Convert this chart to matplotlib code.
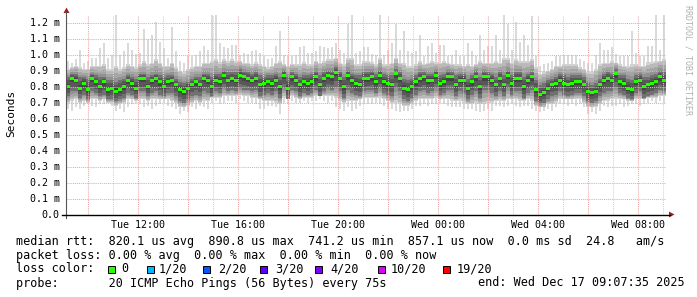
import numpy as np
import matplotlib
matplotlib.use('Agg')
import matplotlib.pyplot as plt
from matplotlib.patches import Polygon, Rectangle

W, H = 697, 297

# one day of pings, hours counted from Tue 00:00
t_start = 9 + 7 / 60 + 35 / 3600
t_end = t_start + 24

# median rtt per column (ms)
rtt_median = [
    .80, .85, .84, .79, .82, .78, .85, .83, .80, .83,
    .78, .79, .77, .78, .80, .84, .82, .79, .85, .85,
    .80, .84, .85, .83, .80, .83, .84, .81, .78, .77,
    .79, .81, .83, .81, .85, .84, .80, .84, .83, .87,
    .84, .85, .84, .87, .86, .85, .84, .85, .81, .82,
    .83, .82, .84, .80, .87, .79, .86, .84, .81, .83,
    .82, .83, .86, .81, .85, .87, .86, .89, .85, .80,
    .87, .84, .82, .81, .85, .85, .86, .83, .87, .83,
    .82, .81, .88, .85, .79, .78, .80, .83, .85, .86,
    .84, .84, .87, .82, .83, .86, .86, .81, .84, .84,
    .79, .83, .86, .80, .86, .86, .84, .81, .85, .81,
    .87, .82, .85, .85, .80, .84, .86, .78, .75, .76,
    .79, .81, .82, .84, .82, .81, .82, .83, .83, .81,
    .77, .76, .77, .81, .84, .85, .84, .88, .83, .82,
    .79, .78, .83, .84, .80, .81, .82, .83, .86, .84,
]

# smoke: slowest ping per column
rtt_max = [
    .96, .95, .97, 1.03, .95, .96, .98, .98, 1.04, 1.07,
    .98, 1.00, 1.25, 1.00, 1.02, 1.07, 1.03, 1.00, 1.01, 1.16,
    1.10, 1.12, 1.20, 1.08, 1.04, .98, 1.17, 1.02, .96, .95,
    .99, .99, 1.00, 1.02, 1.05, 1.03, 1.25, 1.25, 1.07, 1.05,
    1.04, 1.06, 1.06, 1.00, 1.01, 1.00, 1.02, 1.03, 1.01, .99,
    .97, .98, 1.05, 1.15, 1.00, .99, .99, 1.00, 1.05, 1.05,
    1.01, 1.01, 1.02, 1.05, 1.05, 1.04, 1.05, 1.07, 1.03, 1.01,
    1.19, 1.25, 1.01, 1.02, 1.05, 1.05, 1.00, 1.00, 1.25, 1.00,
    1.03, 1.07, 1.19, 1.03, 1.15, 1.02, 1.01, 1.02, 1.12, .99,
    1.05, 1.07, 1.01, 1.06, 1.06, .99, 1.00, 1.03, .99, .99,
    1.07, 1.02, .99, 1.12, 1.03, 1.05, 1.05, 1.12, 1.03, 1.25,
    1.19, 1.03, 1.20, 1.08, 1.12, 1.06, 1.24, .99, .93, .94,
    .95, .96, .99, .99, 1.00, 1.00, 1.00, 1.00, .97, .96,
    .95, .95, 1.00, 1.07, 1.03, 1.03, 1.05, 1.00, .99, .99,
    .99, 1.15, 1.01, .99, .99, 1.05, 1.05, 1.25, 1.03, 1.25,
]

# fastest ping per column
rtt_min = [
    .66, .65, .67, .66, .68, .69, .68, .67, .69, .69,
    .70, .68, .65, .66, .64, .67, .69, .70, .69, .67,
    .68, .66, .68, .69, .70, .68, .67, .66, .63, .65,
    .64, .67, .66, .68, .67, .66, .70, .71, .69, .70,
    .71, .71, .70, .72, .71, .70, .70, .69, .66, .66,
    .68, .68, .67, .63, .70, .69, .71, .70, .70, .71,
    .70, .71, .71, .72, .71, .70, .71, .67, .66, .65,
    .67, .65, .66, .68, .69, .69, .69, .70, .69, .68,
    .66, .66, .65, .64, .65, .65, .66, .68, .68, .69,
    .68, .69, .69, .70, .69, .68, .67, .67, .67, .66,
    .66, .66, .65, .64, .65, .66, .65, .68, .68, .67,
    .68, .69, .68, .67, .68, .68, .66, .65, .64, .65,
    .66, .65, .67, .69, .69, .68, .69, .68, .69, .67,
    .63, .64, .63, .65, .68, .67, .68, .68, .69, .67,
    .68, .69, .69, .68, .69, .70, .71, .70, .71, .70,
]

# outer grey band
rtt_hi2 = [
    .91, .92, .93, .92, .91, .91, .93, .93, .93, .94,
    .91, .91, .93, .91, .92, .94, .93, .92, .94, .96,
    .94, .95, .97, .95, .93, .93, .95, .92, .90, .89,
    .91, .92, .93, .93, .95, .95, .96, .97, .95, .97,
    .96, .97, .96, .96, .95, .95, .94, .95, .94, .93,
    .92, .93, .95, .96, .94, .93, .94, .94, .94, .95,
    .94, .94, .96, .95, .96, .97, .97, .98, .95, .94,
    .98, .98, .94, .94, .96, .96, .95, .94, .98, .94,
    .94, .95, .98, .95, .95, .93, .93, .94, .96, .94,
    .95, .96, .95, .95, .96, .95, .94, .94, .94, .93,
    .94, .93, .94, .96, .95, .95, .95, .96, .95, .98,
    .98, .95, .97, .96, .96, .96, .97, .92, .88, .89,
    .90, .91, .93, .93, .94, .94, .94, .94, .92, .91,
    .89, .89, .91, .94, .95, .95, .96, .95, .94, .93,
    .93, .94, .94, .93, .93, .95, .95, .96, .96, .97,
]
rtt_lo2 = [
    .70, .71, .72, .70, .71, .70, .72, .72, .71, .72,
    .70, .70, .68, .69, .70, .72, .72, .71, .72, .72,
    .71, .72, .72, .72, .72, .72, .71, .70, .67, .67,
    .68, .70, .71, .70, .71, .71, .73, .73, .73, .74,
    .74, .74, .74, .75, .74, .74, .73, .73, .72, .71,
    .71, .71, .70, .69, .73, .72, .74, .73, .72, .73,
    .73, .73, .74, .74, .74, .74, .74, .73, .71, .70,
    .71, .71, .71, .72, .73, .73, .73, .73, .73, .72,
    .71, .70, .70, .69, .68, .68, .69, .71, .72, .72,
    .72, .72, .73, .72, .72, .72, .71, .71, .71, .70,
    .69, .69, .70, .69, .69, .70, .70, .71, .71, .71,
    .72, .72, .72, .71, .71, .72, .71, .68, .67, .67,
    .69, .69, .70, .72, .72, .72, .72, .72, .72, .70,
    .67, .67, .67, .69, .71, .71, .72, .72, .72, .72,
    .71, .71, .72, .72, .72, .73, .73, .73, .74, .74,
]

# inner dark band
rtt_hi1 = [
    .86, .88, .88, .86, .86, .85, .88, .87, .86, .86,
    .84, .84, .83, .84, .85, .87, .86, .85, .88, .88,
    .86, .87, .88, .87, .86, .87, .87, .85, .83, .82,
    .83, .85, .86, .86, .88, .88, .86, .88, .88, .90,
    .89, .89, .89, .91, .90, .89, .88, .89, .87, .86,
    .87, .87, .88, .86, .90, .86, .89, .88, .86, .87,
    .87, .88, .90, .87, .89, .90, .90, .92, .89, .86,
    .90, .88, .87, .87, .89, .89, .90, .88, .90, .88,
    .87, .87, .91, .89, .85, .84, .85, .87, .89, .89,
    .88, .88, .90, .87, .88, .90, .89, .87, .88, .88,
    .85, .87, .90, .86, .90, .89, .88, .86, .89, .87,
    .90, .87, .89, .89, .86, .88, .89, .84, .81, .82,
    .84, .85, .86, .88, .87, .86, .87, .87, .87, .86,
    .82, .81, .82, .85, .88, .89, .88, .91, .87, .87,
    .85, .84, .87, .88, .86, .86, .87, .88, .90, .89,
]
rtt_lo1 = [
    .74, .77, .77, .73, .75, .72, .77, .76, .74, .75,
    .72, .72, .71, .72, .73, .76, .75, .73, .77, .77,
    .74, .76, .77, .75, .74, .76, .76, .74, .71, .70,
    .72, .74, .75, .74, .77, .76, .74, .77, .76, .79,
    .77, .78, .77, .79, .78, .78, .77, .78, .74, .75,
    .76, .75, .77, .73, .79, .72, .78, .77, .74, .76,
    .75, .76, .78, .74, .77, .79, .78, .80, .77, .73,
    .78, .76, .75, .74, .77, .78, .78, .76, .79, .76,
    .75, .74, .79, .77, .72, .71, .73, .75, .77, .78,
    .76, .77, .79, .75, .76, .78, .78, .74, .77, .76,
    .72, .75, .77, .73, .78, .78, .76, .74, .77, .74,
    .79, .75, .77, .77, .73, .76, .78, .71, .69, .70,
    .72, .74, .75, .77, .75, .74, .75, .76, .76, .74,
    .71, .70, .71, .74, .76, .77, .77, .80, .76, .75,
    .73, .72, .76, .77, .73, .74, .75, .76, .78, .77,
]

y_ticks = [0.0, 0.1, 0.2, 0.3, 0.4, 0.5, 0.6, 0.7, 0.8, 0.9, 1.0, 1.1, 1.2]
y_labels = ['0.0', '0.1 m', '0.2 m', '0.3 m', '0.4 m', '0.5 m', '0.6 m',
            '0.7 m', '0.8 m', '0.9 m', '1.0 m', '1.1 m', '1.2 m']
x_ticks = [12, 16, 20, 24, 28, 32]
x_labels = ['Tue 12:00', 'Tue 16:00', 'Tue 20:00', 'Wed 00:00', 'Wed 04:00', 'Wed 08:00']

loss_names = ['0', '1/20', '2/20', '3/20', '4/20', '10/20', '19/20']
loss_colors = ['#26ff00', '#00b8ff', '#0059ff', '#5e00ff', '#7e00ff', '#dd00ff', '#ff0000']

MONO = 'DejaVu Sans Mono'


def fx(x):
    return x / W


def fy(y):
    return 1 - y / H


fig = plt.figure(figsize=(W / 100, H / 100), dpi=100)
fig.patch.set_facecolor('white')
ax = fig.add_axes([fx(66), fy(214.5), 600 / W, 200 / H])
ax.set_xlim(t_start, t_end)
ax.set_ylim(0, 1.25)

n = len(rtt_median)
edges = np.linspace(t_start, t_end, n + 1)
centers = (edges[:-1] + edges[1:]) / 2
step = edges[1] - edges[0]

r_max, r_min = np.array(rtt_max), np.array(rtt_min)
hi2, lo2 = np.array(rtt_hi2), np.array(rtt_lo2)
hi1, lo1 = np.array(rtt_hi1), np.array(rtt_lo1)
med = np.array(rtt_median)


def band(lo, hi, color, alpha=1.0):
    lo = np.append(lo, lo[-1])
    hi = np.append(hi, hi[-1])
    ax.fill_between(edges, lo, hi, step='post', color=color, alpha=alpha,
                    linewidth=0, zorder=2)


# pale outliers as thin streaks
ax.bar(centers, r_max - hi2, bottom=hi2, width=step * 0.55, color='#dadada',
       linewidth=0, zorder=2)
ax.bar(centers, lo2 - r_min, bottom=r_min, width=step * 0.55, color='#dadada',
       linewidth=0, zorder=2)
ax.bar(centers, hi2 - lo2, bottom=lo2, width=step * 0.8, color='#d2d2d2',
       linewidth=0, zorder=2)

# smoke shading gets darker towards the median
for k in (0.15, 0.45, 0.75):
    band(lo2 + k * (lo1 - lo2), hi2 + k * (hi1 - hi2), '#000000', 0.11)
for k in (0.0, 0.35, 0.7):
    band(lo1 + k * (med - lo1), hi1 + k * (med - hi1), '#000000', 0.22)

ax.bar(centers, 0.018, bottom=med - 0.009, width=step, color='#26ff00',
       linewidth=0, zorder=4)

# grid
for v in y_ticks[1:]:
    ax.axhline(v, color='#eaa8a8', lw=0.75, ls=(0, (1, 1)), zorder=3)
for hr in range(10, 34):
    c = '#eaa8a8' if hr % 2 == 0 else '#d2d2d2'
    ax.axvline(hr, color=c, lw=0.75, ls=(0, (1, 1)), zorder=3)

for s in ax.spines.values():
    s.set_visible(False)
ax.set_yticks(y_ticks)
ax.set_yticklabels(y_labels, family=MONO, fontsize=7.2)
ax.set_xticks(x_ticks)
ax.set_xticklabels(x_labels, family=MONO, fontsize=7.2)
ax.tick_params(length=0)
ax.tick_params(axis='y', pad=4.5)
ax.tick_params(axis='x', pad=4)

# axes with arrows
fig.add_artist(plt.Line2D([fx(66), fx(66)], [fy(218), fy(12)], color='#555555', lw=0.8))
fig.add_artist(plt.Line2D([fx(62), fx(670)], [fy(214.5), fy(214.5)], color='black', lw=1.0))
fig.add_artist(Polygon([[fx(63.5), fy(13)], [fx(69.5), fy(13)], [fx(66.5), fy(7.5)]],
                       closed=True, color='#a02020', lw=0))
fig.add_artist(Polygon([[fx(669), fy(211.5)], [fx(669), fy(217.5)], [fx(674.5), fy(214.5)]],
                       closed=True, color='#a02020', lw=0))

fig.text(fx(11), fy(113), 'Seconds', rotation=90, family=MONO, fontsize=8,
         ha='center', va='center')
fig.text(fx(688), fy(5), 'RRDTOOL / TOBI OETIKER', rotation=270, family=MONO,
         fontsize=6, color='#b0b0b0', ha='center', va='top')

# legend block
leg = dict(family=MONO, fontsize=8.5, va='center', ha='left')
fig.text(fx(16), fy(241), 'median rtt:  820.1 us avg  890.8 us max  741.2 us min  '
         '857.1 us now  0.0 ms sd  24.8   am/s', **leg)
fig.text(fx(16), fy(255), 'packet loss: 0.00 % avg  0.00 % max  0.00 % min  0.00 % now', **leg)
fig.text(fx(16), fy(269), 'loss color:', **leg)
sq_x = [108, 147, 203, 260, 315, 378, 443]
txt_x = [121.5, 159, 218, 275, 330, 391, 456.5]
for name, col, sx, tx in zip(loss_names, loss_colors, sq_x, txt_x):
    fig.add_artist(Rectangle((fx(sx), fy(272.5)), 7 / W, 7 / H, facecolor=col,
                             edgecolor='black', lw=0.7))
    fig.text(fx(tx), fy(269), name, **leg)
fig.text(fx(16), fy(283), 'probe:       20 ICMP Echo Pings (56 Bytes) every 75s', **leg)
fig.text(fx(478), fy(283), 'end: Wed Dec 17 09:07:35 2025', **leg)

fig.savefig('out.png', dpi=100)
